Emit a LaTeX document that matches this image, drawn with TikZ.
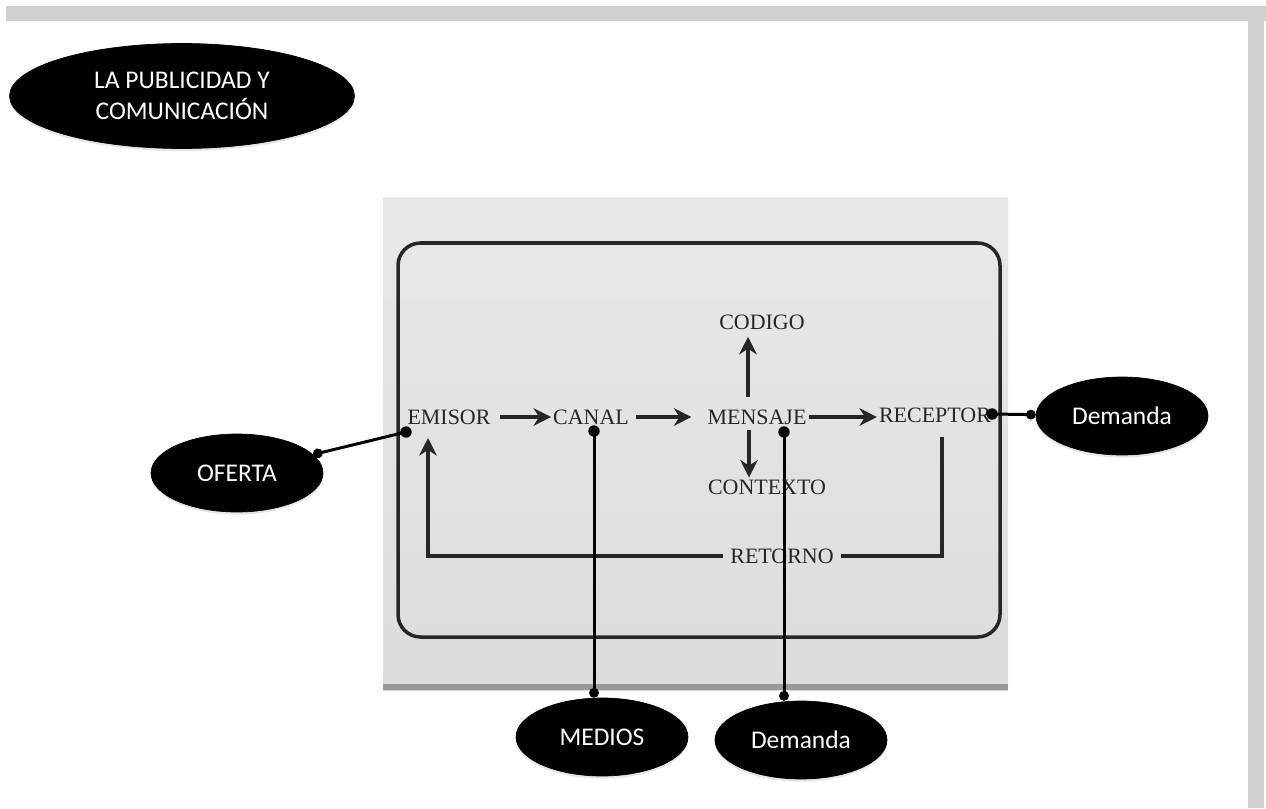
\documentclass[tikz,border=0pt]{standalone}
\usepackage{fontspec}
\setmainfont{Liberation Serif}
\newfontfamily\bubblefont{Carlito}
\usetikzlibrary{shapes.geometric,arrows.meta,calc,shadows}
\definecolor{bandgray}{RGB}{208,208,208}
\definecolor{paperhi}{RGB}{232,232,232}
\definecolor{paperlo}{RGB}{220,220,220}
\definecolor{ink}{RGB}{38,38,38}
\tikzset{
  bubble/.style={ellipse, fill=black, draw=black, text=white, inner sep=0pt,
    minimum width=3.44cm, minimum height=1.56cm,
    font=\bubblefont\fontsize{14.5}{18}\selectfont,
    drop shadow={opacity=0.2, shadow xshift=0pt, shadow yshift=-1.5pt}},
  word/.style={text=ink, inner sep=1pt, font=\fontsize{12.5}{15}\selectfont},
  flow/.style={ink, line width=2.5pt, -{Stealth[length=10pt,width=10pt]}},
  backline/.style={ink, line width=2.2pt},
  dot/.style={circle, fill=black, inner sep=0pt, minimum size=6.5pt},
  link/.style={black, line width=1.7pt, -{Circle[length=5.5pt]}}
}

\begin{document}
\begin{tikzpicture}[x=0.02cm, y=-0.02cm]
  \useasboundingbox (0,0) rectangle (1266,808);
  % page border
  \fill[bandgray] (6,6) rectangle (1266,21);
  \fill[bandgray] (1248,6) rectangle (1264,808);

  % photo of the scheme
  \shade[top color=paperhi, bottom color=paperlo] (383,197) rectangle (1008,690);
  \fill[black!40] (383,684) rectangle (1008,690);
  \draw[ink, line width=2pt, rounded corners=0.45cm] (398,243) rectangle (1000,637);

  \node[word] (emisor) at (449,417) {EMISOR};
  \node[word] (canal) at (591,417) {CANAL};
  \node[word] (mensaje) at (757,417) {MENSAJE};
  \node[word] (receptor) at (935,415) {RECEPTOR};
  \node[word] (codigo) at (762,322) {CODIGO};
  \node[word] (contexto) at (767,487) {CONTEXTO};
  \node[word, inner sep=4pt] (retorno) at (782,556) {RETORNO};

  \draw[flow, shorten <=4pt] (emisor) -- (canal);
  \draw[flow, shorten <=3pt, shorten >=8pt] (canal) -- (mensaje);
  \draw[flow] (mensaje) -- (mensaje -| receptor.west);
  \draw[flow, shorten <=6pt, shorten >=3pt] ($(mensaje.north)+(-9,0)$) -- ($(codigo.south)+(-14,0)$);
  \draw[flow, shorten <=2pt] ($(mensaje.south)+(-8,0)$) -- ($(contexto.north)+(-18,0)$);

  % retorno
  \coordinate (back) at (942,437);
  \coordinate (home) at (428,438);
  \draw[backline] (back) |- (retorno.east);
  \draw[flow] (retorno.west) -| (home);

  % labels
  \node[bubble, minimum width=6.9cm, minimum height=2.1cm, align=center] (title) at (182,96) {LA PUBLICIDAD Y\\COMUNICACI\'ON};
  \node[bubble] (oferta) at (237,473) {OFERTA};
  \node[bubble] (demandar) at (1122,416) {Demanda};
  \node[bubble] (medios) at (602,737) {MEDIOS};
  \node[bubble] (demandab) at (801,740) {Demanda};

  \node[dot] (pemisor) at (406,432) {};
  \node[dot] (pcanal) at (594,431) {};
  \node[dot] (pmensaje) at (784,432) {};
  \node[dot] (precep) at (992,414) {};

  \draw[link] (pemisor.center) -- (oferta);
  \draw[link] (pcanal.center) -- (pcanal |- medios.north);
  \draw[link] (pmensaje.center) -- (pmensaje |- demandab.north);
  \draw[link] (precep.center) -- (demandar);
\end{tikzpicture}
\end{document}
